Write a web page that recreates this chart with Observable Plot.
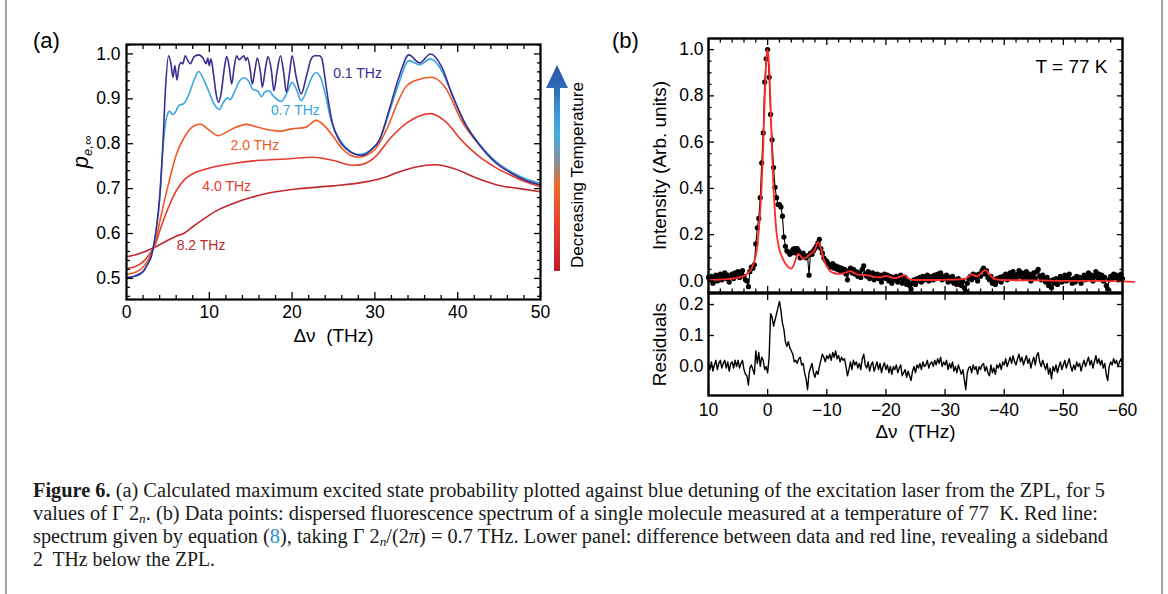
<!DOCTYPE html>
<html><head><meta charset="utf-8">
<script src="https://cdn.jsdelivr.net/npm/d3@7"></script>
<script src="https://cdn.jsdelivr.net/npm/@observablehq/plot@0.6"></script>
<style>
html,body{margin:0;padding:0;background:#fff;}
body{width:1168px;height:594px;position:relative;overflow:hidden;font-family:"Liberation Sans",Arial,sans-serif;color:#000;}
.abs{position:absolute;}
.rot{position:absolute;transform:translate(-50%,-50%) rotate(-90deg);white-space:nowrap;}
#caption{position:absolute;left:33px;top:479px;font-family:"Liberation Serif","Times New Roman",serif;font-size:20px;line-height:23px;color:#1a1a1a;}
#caption .cl{white-space:nowrap;height:23px;}
#caption .cl span{display:inline-block;transform-origin:0 0;}
#caption sub{font-size:13px;line-height:0;vertical-align:-3px;}
.vline{position:absolute;top:0;width:2px;height:594px;background:#a3a3a3;}
</style></head><body>
<div class="vline" style="left:5px"></div>
<div class="vline" style="left:1161px"></div>
<div id="panelA" class="abs" style="left:0;top:0"></div>
<div id="panelB" class="abs" style="left:600px;top:0"></div>
<div id="panelR" class="abs" style="left:600px;top:280px"></div>
<div class="abs" style="left:33px;top:29px;font-size:22px;line-height:24px">(a)</div>
<div class="abs" style="left:612px;top:29px;font-size:22px;line-height:24px">(b)</div>
<div class="rot" style="left:81px;top:152px;font-family:'Liberation Sans',Arial,sans-serif;"><i style="font-size:22px">p</i><sub style="font-size:13px;font-style:italic;vertical-align:-4px">e,∞</sub></div>
<svg class="abs" style="left:540px;top:60px" width="40" height="215">
  <defs>
    <linearGradient id="tempGrad" gradientUnits="userSpaceOnUse" x1="0" y1="5" x2="0" y2="211">
      <stop offset="0" stop-color="#2a55a5"/>
      <stop offset="0.12" stop-color="#2f6fbd"/>
      <stop offset="0.24" stop-color="#3b9ad7"/>
      <stop offset="0.34" stop-color="#45acdf"/>
      <stop offset="0.485" stop-color="#8e8c8e"/>
      <stop offset="0.58" stop-color="#ee6b2b"/>
      <stop offset="0.78" stop-color="#e6412e"/>
      <stop offset="1" stop-color="#bf1d2e"/>
    </linearGradient>
  </defs>
  <path d="M17 5 L28 28 L20 28 L20 211 L14 211 L14 28 L6 28 Z" fill="url(#tempGrad)"/>
</svg>
<div class="rot" style="left:578px;top:175px;font-size:17px">Decreasing Temperature</div>
<div id="caption">
  <div class="cl" data-w="1072"><span><b>Figure 6.</b> (a) Calculated maximum excited state probability plotted against blue detuning of the excitation laser from the ZPL, for 5</span></div>
  <div class="cl" data-w="1065"><span>values of Γ 2<sub><i>n</i></sub>. (b) Data points: dispersed fluorescence spectrum of a single molecule measured at a temperature of 77&nbsp; K. Red line:</span></div>
  <div class="cl" data-w="1075"><span>spectrum given by equation (<span style="color:#2a8bd0;display:inline;">8</span>), taking Γ 2<sub><i>n</i></sub>/(2<i>π</i>) = 0.7 THz. Lower panel: difference between data and red line, revealing a sideband</span></div>
  <div class="cl" data-w="182"><span>2&nbsp; THz below the ZPL.</span></div>
</div>
<script>
// ---------- Panel (a): p_e,inf vs detuning, five linewidths ----------
const widthLabels = ["0.1 THz", "0.7 THz", "2.0 THz", "4.0 THz", "8.2 THz"];
const c01X = [0,1,2,2.5,3,3.3,3.6,4,4.4,4.7,5.09,5.37,5.61,5.85,6.09,6.37,6.61,6.81,7.09,7.41,7.69,8.17,8.69,9.3,9.62,9.82,10.0,10.2,10.5,10.82,11.1,11.42,11.78,12.1,12.42,12.7,13.0,13.3,13.6,13.9,14.2,14.4,14.6,14.9,15.2,15.5,15.8,16.2,16.4,16.8,17.1,17.5,17.8,18.2,18.6,19.0,19.3,19.7,20.0,20.5,21.1,21.7,22.3,22.7,23.3,23.6,23.9,24.3,24.9,25.7,26.5,27.7,28.5,29.7,30.5,31.7,32.9,34.1,35.4,36.7,38.1,39.3,40.9,42.5,44.5,46.6,48.2,50];
const c01Y = [0.502,0.505,0.515,0.53,0.55,0.575,0.61,0.68,0.8,0.92,0.996,0.978,0.948,0.974,0.942,0.974,0.981,0.978,0.996,0.985,0.978,0.994,0.998,0.989,0.978,0.991,0.974,0.989,0.956,0.911,0.892,0.911,0.963,0.994,0.97,0.933,0.97,0.996,0.987,0.992,0.996,0.985,0.992,0.97,0.933,0.963,0.991,0.956,0.926,0.97,0.994,0.963,0.918,0.963,0.996,0.956,0.915,0.959,0.996,0.948,0.911,0.948,0.989,0.996,0.996,0.989,0.956,0.904,0.844,0.807,0.789,0.776,0.774,0.789,0.807,0.874,0.948,0.998,0.98,1.0,0.97,0.911,0.844,0.8,0.759,0.733,0.718,0.708];
const c07X = [0,1,2,2.5,3,3.3,3.6,4,4.4,4.7,4.89,5.2,5.57,5.9,6.3,6.9,7.3,7.7,8.3,8.7,9.3,9.9,10.7,11.2,11.7,12.2,12.5,13.1,13.7,14.2,14.7,15.3,15.8,16.3,16.7,17.2,17.7,18.7,19.5,20.0,20.5,21.1,21.9,22.5,22.9,23.5,24.0,24.7,25.7,26.9,28.1,29.7,30.5,31.7,32.9,34.1,35.4,36.7,38.1,39.3,40.9,42.5,44.5,46.6,48.2,50];
const c07Y = [0.502,0.505,0.515,0.53,0.55,0.575,0.61,0.675,0.79,0.845,0.862,0.872,0.865,0.87,0.885,0.889,0.9,0.918,0.948,0.961,0.944,0.918,0.885,0.876,0.892,0.902,0.898,0.918,0.941,0.947,0.941,0.92,0.918,0.905,0.915,0.918,0.907,0.894,0.918,0.937,0.922,0.896,0.926,0.952,0.958,0.944,0.911,0.852,0.811,0.785,0.776,0.789,0.805,0.868,0.935,0.985,0.976,0.989,0.962,0.91,0.846,0.802,0.762,0.736,0.722,0.712];
const c20X = [0,1,2,3,3.5,4,5,6,7,8,8.9,9.8,11.1,12,13,14.5,16,17.5,18.5,20,21.7,22.9,24,25,26,27,28,29,30,31.5,32.7,33.7,34.9,36.9,38.5,40.5,42.5,44.5,46.6,48.2,50];
const c20Y = [0.509,0.513,0.525,0.555,0.58,0.625,0.705,0.775,0.815,0.838,0.844,0.833,0.818,0.825,0.835,0.843,0.836,0.83,0.828,0.833,0.837,0.852,0.838,0.815,0.79,0.775,0.77,0.774,0.787,0.835,0.89,0.926,0.941,0.948,0.925,0.85,0.8,0.762,0.735,0.719,0.708];
const c40X = [0,1,2,3,3.5,4,5,6,7,8,9.7,12.9,16.1,19.2,22.5,24.9,27.3,28.5,30,32,34,36.7,38.5,40.5,42.5,44.5,46.6,48.2,50];
const c40Y = [0.522,0.526,0.537,0.56,0.577,0.605,0.655,0.695,0.72,0.733,0.744,0.756,0.763,0.766,0.77,0.763,0.752,0.754,0.77,0.815,0.848,0.867,0.85,0.807,0.773,0.748,0.728,0.715,0.704];
const c82X = [0,1,2,3,4,5,6,6.9,8,9.7,11,12.9,15,16.9,20.9,24.9,28.9,31,32.9,35,37.3,39.5,42.5,45,47.5,50];
const c82Y = [0.548,0.552,0.558,0.566,0.575,0.585,0.594,0.6,0.615,0.637,0.652,0.667,0.68,0.689,0.7,0.706,0.715,0.724,0.737,0.748,0.753,0.745,0.722,0.707,0.7,0.693];
// label anchor points (data units) for the curve annotations
const labelX = [27.9, 20.4, 15.5, 12.1, 9.0];
const labelY = [0.956, 0.874, 0.796, 0.705, 0.574];
const aXTicks = [0, 10, 20, 30, 40, 50];
const aYTicks = [0.5, 0.6, 0.7, 0.8, 0.9, 1.0];

// ---------- Panel (b): spectrum at 77 K ----------
const specStart = 10, specStep = -0.25;   // detuning grid of the recorded spectrum (THz)
const specIntensity = [
0.015,0.005,0.02,-0.01,0.01,0.025,0.0,0.015,0.03,0.005,0.02,0.035,0.01,0.025,-0.005,0.02,0.03,0.01,0.035,0.02,
0.04,0.015,0.03,0.045,0.02,0.005,0.0,-0.025,0.04,0.06,0.055,0.07,0.16,0.23,0.27,0.36,0.51,0.64,0.86,0.96,
1.0,0.88,0.72,0.61,0.49,0.405,0.36,0.33,0.33,0.32,0.28,0.19,0.15,0.13,0.125,0.115,0.12,0.135,0.14,0.12,
0.14,0.13,0.1,0.115,0.12,0.105,0.1,0.11,0.025,0.12,0.115,0.13,0.14,0.15,0.165,0.18,0.14,0.12,0.1,0.09,
0.085,0.075,0.07,0.06,0.075,0.055,0.065,0.05,0.06,0.045,0.055,0.04,0.05,0.03,0.005,0.045,0.055,0.035,0.05,0.03,
0.04,0.02,0.035,0.015,0.05,0.065,0.03,0.02,0.04,0.01,0.025,0.035,0.005,0.02,0.03,0.01,0.025,-0.005,0.015,0.03,
0.01,0.025,0.0,0.02,-0.01,0.015,0.005,0.02,-0.005,0.01,0.025,-0.01,0.005,0.015,-0.015,0.0,-0.02,-0.035,-0.01,0.005,
-0.015,0.01,0.0,0.015,-0.005,0.02,0.005,0.01,0.025,0.0,0.015,0.02,0.005,0.025,0.01,0.03,0.015,0.035,0.005,0.02,
0.01,0.025,-0.005,0.015,0.0,0.02,-0.01,0.005,-0.015,0.01,-0.005,-0.02,0.0,-0.03,-0.045,-0.01,0.01,0.02,0.005,0.03,
0.015,0.025,0.0,0.03,0.02,0.045,0.055,0.03,0.045,0.015,0.005,0.02,-0.01,0.005,-0.015,0.01,0.0,0.015,-0.005,0.02,
0.01,0.03,0.005,0.02,0.035,0.015,0.04,0.02,0.01,0.03,0.045,0.02,0.035,0.01,0.025,0.04,0.015,0.03,0.0,0.02,
0.035,0.01,0.04,0.05,0.02,0.005,0.025,0.01,-0.005,0.015,-0.02,0.0,-0.03,0.005,-0.01,0.01,-0.015,0.005,0.02,-0.005,
0.01,0.025,0.0,0.015,0.03,0.005,-0.01,0.01,-0.005,0.02,0.005,0.015,-0.01,0.01,0.025,0.005,0.02,0.035,0.01,0.025,
0.0,0.02,0.04,0.015,0.03,0.01,0.025,0.0,0.015,-0.02,-0.035,0.005,0.02,0.01,0.03,0.015,0.025,0.005,0.02,0.03,
0.01];
const residuals = [
0.01,-0.01,0.015,-0.015,0.005,0.02,-0.01,0.01,0.02,-0.005,0.01,0.02,-0.005,0.015,-0.015,0.01,0.015,-0.005,0.02,0.0,
0.02,-0.005,0.01,0.02,-0.01,-0.025,-0.03,-0.06,-0.005,0.005,-0.01,-0.025,0.05,0.01,0.045,0.0,0.03,0.02,-0.01,0.0,
-0.02,0.03,0.17,0.16,0.13,0.15,0.17,0.19,0.21,0.18,0.14,0.12,0.08,0.065,0.08,0.06,0.05,0.04,0.015,0.02,
0.01,0.025,0.03,0.005,0.01,-0.02,-0.04,-0.075,-0.02,-0.005,0.01,-0.02,-0.035,-0.015,-0.025,0.0,0.02,0.04,0.03,0.015,
0.035,0.025,0.04,0.02,0.045,0.03,0.05,0.025,0.035,0.015,0.03,0.02,0.025,0.0,-0.03,-0.01,0.015,-0.01,0.02,0.005,
0.015,-0.005,0.01,-0.01,0.025,0.04,0.005,-0.005,0.015,-0.015,0.005,0.015,-0.015,0.0,0.015,-0.01,0.01,-0.02,0.0,0.012,
-0.01,0.005,-0.02,0.0,-0.025,0.0,-0.01,0.005,-0.02,-0.005,0.005,-0.03,-0.02,-0.01,-0.035,-0.015,-0.03,-0.045,-0.015,0.0,
-0.02,0.005,-0.005,0.01,-0.01,0.015,0.0,0.005,0.02,-0.005,0.01,0.015,0.0,0.02,0.005,0.025,0.01,0.03,0.0,0.015,
0.005,0.02,-0.01,0.01,-0.005,0.015,-0.015,0.0,-0.02,0.005,-0.01,-0.025,-0.01,-0.04,-0.075,-0.02,-0.005,0.0,-0.02,0.005,
-0.01,0.0,-0.025,0.0,-0.01,0.005,0.01,-0.015,0.0,-0.02,-0.03,0.005,-0.02,-0.005,-0.025,0.005,-0.005,0.01,-0.01,0.015,
0.005,0.025,0.0,0.015,0.03,0.01,0.035,0.015,0.005,0.025,0.04,0.015,0.03,0.005,0.02,0.035,0.01,0.025,-0.005,0.015,
0.03,0.005,0.035,0.045,0.015,0.0,0.02,0.005,-0.01,0.01,-0.025,-0.005,-0.04,0.0,-0.015,0.005,-0.02,0.0,0.015,-0.01,
0.005,0.02,-0.005,0.01,0.025,0.0,-0.015,0.005,-0.01,0.015,0.0,0.01,-0.015,0.005,0.02,0.0,0.015,0.03,0.005,0.02,
-0.005,0.015,0.035,0.01,0.025,0.005,0.02,-0.005,0.01,-0.025,-0.045,0.0,0.015,0.005,0.025,0.01,0.02,0.0,0.015,0.025,
0.005];
const fitX = [10,8,6,5,4,3.5,3,2.5,2.2,2.0,1.75,1.5,1.25,1.0,0.75,0.5,0.3,0.15,0,-0.15,-0.3,-0.5,-0.75,-1.0,-1.25,-1.5,-1.75,-2.0,-2.5,-3.0,-3.5,-3.9,-4.3,-4.7,-5.1,-5.5,-6.0,-6.5,-7.0,-7.5,-8.0,-8.5,-8.8,-9.2,-9.6,-10,-10.5,-11,-11.75,-12.5,-13.3,-14,-14.6,-15.2,-16,-17,-18,-19,-20,-20.6,-21.5,-22.5,-23.1,-23.7,-24.5,-26,-28,-30,-32,-33.5,-34.5,-35.3,-36,-36.8,-37.5,-38.2,-39.5,-42,-46,-50,-55,-62];
const fitY = [0.004,0.006,0.01,0.014,0.022,0.03,0.042,0.065,0.09,0.11,0.15,0.22,0.3,0.42,0.58,0.78,0.92,0.98,1.0,0.97,0.9,0.76,0.55,0.4,0.29,0.21,0.165,0.135,0.1,0.075,0.06,0.053,0.062,0.09,0.117,0.11,0.096,0.1,0.112,0.12,0.135,0.168,0.16,0.12,0.085,0.062,0.045,0.036,0.031,0.032,0.037,0.042,0.035,0.027,0.026,0.024,0.018,0.016,0.022,0.018,0.012,0.02,0.025,0.012,0.005,0.004,0.004,0.005,0.006,0.01,0.028,0.02,0.03,0.048,0.03,0.01,0.004,0.003,0.002,0.0,0.0,-0.004];
const bXTicks = [10, 0, -10, -20, -30, -40, -50, -60];
const bYTicks = [0.0, 0.2, 0.4, 0.6, 0.8, 1.0];
const rYTicks = [0.0, 0.1, 0.2];

// ---------- build ----------
const seriesColors = ["#3c2f8f", "#3aa7e3", "#f15a24", "#e63b2e", "#c1272d"];
const seriesX = [c01X, c07X, c20X, c40X, c82X];
const seriesY = [c01Y, c07Y, c20Y, c40Y, c82Y];
const seriesA = seriesX.map((xs, k) => xs.map((x, i) => ({x, y: seriesY[k][i]})));
const spec = specIntensity.map((v, i) => ({x: specStart + specStep * i, y: v}));
const resid = residuals.map((v, i) => ({x: specStart + specStep * i, y: v}));
const fit = fitX.map((x, i) => ({x, y: fitY[i]}));

const blank = () => "";
function inwardTicks(xSets, ySets, sw = 1.3) {
  const m = [];
  for (const [vals, len] of xSets) {
    m.push(Plot.axisX(vals, {anchor: "bottom", tickSize: len, dy: -len, tickFormat: blank, label: null, strokeWidth: sw}));
    m.push(Plot.axisX(vals, {anchor: "top", tickSize: len, dy: len, tickFormat: blank, label: null, strokeWidth: sw}));
  }
  for (const [vals, len] of ySets) {
    m.push(Plot.axisY(vals, {anchor: "left", tickSize: len, dx: len, tickFormat: blank, label: null, strokeWidth: sw}));
    m.push(Plot.axisY(vals, {anchor: "right", tickSize: len, dx: -len, tickFormat: blank, label: null, strokeWidth: sw}));
  }
  return m;
}
const font = "Liberation Sans, Arial, sans-serif";
const baseStyle = {fontFamily: font, fontSize: "17.5px", background: "transparent", overflow: "visible", color: "black"};

const aXMinor = d3.range(0, 50.1, 2).filter(v => v % 10 !== 0);
const aYMinor = d3.range(0.46, 1.021, 0.02).filter(v => Math.abs(v * 10 - Math.round(v * 10)) > 1e-6);

const panelA = Plot.plot({
  width: 600, height: 360,
  marginLeft: 126, marginRight: 60, marginTop: 44, marginBottom: 61,
  x: {domain: [0, 50], axis: null},
  y: {domain: [0.453, 1.021], axis: null},
  style: baseStyle,
  marks: [
    ...seriesA.slice().reverse().map((rows, j) => {
      const k = seriesA.length - 1 - j;
      return Plot.line(rows, {x: "x", y: "y", stroke: seriesColors[k], strokeWidth: 1.6, curve: "monotone-x"});
    }),
    ...widthLabels.map((lab, k) => Plot.text([lab], {x: () => labelX[k], y: () => labelY[k], text: d => d, fill: seriesColors[k], fontSize: 14})),
    ...inwardTicks([[aXTicks, 7], [aXMinor, 4]], [[aYTicks, 7], [aYMinor, 4]]),
    Plot.axisX(aXTicks, {anchor: "bottom", tickSize: 0, tickPadding: 6, label: null}),
    Plot.axisY(aYTicks, {anchor: "left", tickSize: 0, tickPadding: 6, tickFormat: ".1f", label: null}),
    Plot.text(["Δν\u00a0 (THz)"], {frameAnchor: "bottom", dy: 42, text: d => d, fontSize: 19}),
    Plot.frame({stroke: "black", strokeWidth: 2.2})
  ]
});
document.getElementById("panelA").append(panelA);

const bXMinor = d3.range(-60, 10.1, 2).filter(v => v % 10 !== 0);
const bYMinor = d3.range(-0.05, 1.05, 0.05).filter(v => Math.abs(v * 5 - Math.round(v * 5)) > 1e-6);

const panelB = Plot.plot({
  width: 568, height: 300,
  marginLeft: 108, marginRight: 46, marginTop: 38, marginBottom: 8,
  x: {domain: [10, -60], axis: null},
  y: {domain: [-0.05, 1.048], axis: null},
  style: baseStyle,
  marks: [
    Plot.line(spec, {x: "x", y: "y", stroke: "black", strokeWidth: 1.1}),
    Plot.dot(spec, {x: "x", y: "y", r: 2.6, fill: "black"}),
    Plot.line(fit, {x: "x", y: "y", stroke: "#ff2b2b", strokeWidth: 1.8, curve: "monotone-x"}),
    ...inwardTicks([[bXTicks, 6], [bXMinor, 3.5]], [[bYTicks, 6], [bYMinor, 3.5]]),
    Plot.axisY(bYTicks, {anchor: "left", tickSize: 0, tickPadding: 5, tickFormat: ".1f", label: null}),
    Plot.text(["Intensity (Arb. units)"], {frameAnchor: "left", dx: -49, rotate: -90, textAnchor: "middle", text: d => d, fontSize: 19}),
    Plot.text(["T = 77 K"], {frameAnchor: "top-right", dx: -15, dy: 21, textAnchor: "end", text: d => d, fontSize: 19}),
    Plot.frame({stroke: "black", strokeWidth: 2.4})
  ]
});
document.getElementById("panelB").append(panelB);

const panelR = Plot.plot({
  width: 568, height: 180,
  marginLeft: 108, marginRight: 46, marginTop: 13, marginBottom: 65,
  x: {domain: [10, -60], axis: null},
  y: {domain: [-0.0935, 0.2355], axis: null},
  style: baseStyle,
  marks: [
    Plot.line(resid, {x: "x", y: "y", stroke: "black", strokeWidth: 1.4}),
    ...inwardTicks([[bXTicks, 6]], [[rYTicks, 6]]),
    Plot.axisX(bXTicks, {anchor: "bottom", tickSize: 0, tickPadding: 8, label: null}),
    Plot.axisY(rYTicks, {anchor: "left", tickSize: 0, tickPadding: 5, tickFormat: ".1f", label: null}),
    Plot.text(["Residuals"], {frameAnchor: "left", dx: -49, rotate: -90, textAnchor: "middle", text: d => d, fontSize: 19}),
    Plot.text(["Δν\u00a0 (THz)"], {frameAnchor: "bottom", dy: 42, text: d => d, fontSize: 19}),
    Plot.frame({stroke: "black", strokeWidth: 2.4})
  ]
});
document.getElementById("panelR").append(panelR);

// fit caption lines to the reference line lengths
document.querySelectorAll("#caption .cl").forEach(line => {
  const span = line.firstElementChild;
  const w = span.getBoundingClientRect().width;
  const target = +line.dataset.w;
  if (w > 0) span.style.transform = `scaleX(${target / w})`;
});
</script>
</body></html>
